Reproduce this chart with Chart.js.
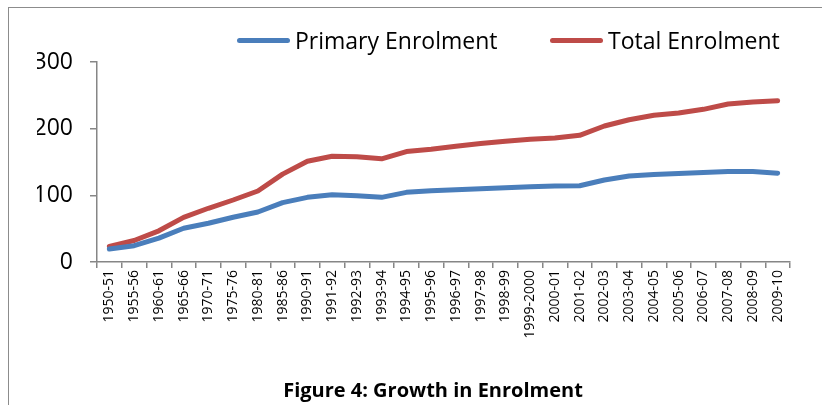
<!DOCTYPE html>
<html>
<head>
<meta charset="utf-8">
<script src="https://cdn.jsdelivr.net/npm/chart.js@4/dist/chart.umd.min.js"></script>
<style>
  html, body { margin: 0; padding: 0; background: #fff; }
  body { width: 822px; height: 405px; position: relative; overflow: hidden; font-family: "Open Sans", Lato, sans-serif; }
  #frame { position: absolute; left: 8px; top: 7px; width: 900px; height: 500px; border-left: 1px solid #8c8c8c; border-top: 1px solid #8c8c8c; }
  #chartBox { position: absolute; left: 0; top: 0; width: 822px; height: 405px; }
  .legend-item { position: absolute; top: 24px; height: 32px; display: flex; align-items: center; font-size: 23px; color: #000; white-space: nowrap; }
  .legend-item .swatch { width: 53px; height: 5px; border-radius: 3px; margin-right: 5px; }
  #title { position: absolute; left: 0; width: 866px; top: 376px; text-align: center; font-weight: bold; font-size: 20px; color: #000; }
</style>
</head>
<body>
<div id="frame"></div>
<div id="chartBox"><canvas id="enrolChart" width="822" height="405"></canvas></div>
<div class="legend-item" style="left:237px"><span class="swatch" style="background:#4a7ebb"></span>Primary Enrolment</div>
<div class="legend-item" style="left:550px"><span class="swatch" style="background:#be4b48"></span>Total Enrolment</div>
<div id="title">Figure 4: Growth in Enrolment</div>

<script>
// الفئات (السنوات)
const years = ["1950-51", "1955-56", "1960-61", "1965-66", "1970-71", "1975-76", "1980-81",
    "1985-86", "1990-91", "1991-92", "1992-93", "1993-94", "1994-95", "1995-96", "1996-97",
    "1997-98", "1998-99", "1999-2000", "2000-01", "2001-02", "2002-03", "2003-04", "2004-05",
    "2005-06", "2006-07", "2007-08", "2008-09", "2009-10"];

// القيم المقروءة من الصورة
const primaryEnrolment = [19.4, 24.4, 35.8, 50.7, 58.2, 67.2, 75, 89, 97, 101, 99.5, 97, 104.5,
    107, 108.5, 110, 111.4, 113, 114, 114.4, 123, 129, 131.3, 132.8, 134.3, 135.8, 135.8, 133.3];
const totalEnrolment = [23.4, 32.3, 46.8, 67, 80.6, 93, 106.5, 131.8, 151.2, 158.7, 157.7, 154.7, 165.7,
    169, 173.6, 177.6, 181, 184, 186, 190, 204, 213.4, 220, 223.4, 229, 237, 240, 242];

const yTicks = [0, 100, 200, 300];

const axisColor = "#868686";

const ctx = document.getElementById("enrolChart").getContext("2d");

new Chart(ctx, {
    type: "line",
    data: {
        labels: years,
        datasets: [
            {
                label: "Primary Enrolment",
                data: primaryEnrolment,
                borderColor: "#4a7ebb",
                borderWidth: 5,
                pointRadius: 0,
                tension: 0,
                borderCapStyle: "round",
                borderJoinStyle: "round"
            },
            {
                label: "Total Enrolment",
                data: totalEnrolment,
                borderColor: "#be4b48",
                borderWidth: 5,
                pointRadius: 0,
                tension: 0,
                borderCapStyle: "round",
                borderJoinStyle: "round"
            }
        ]
    },
    options: {
        responsive: false,
        animation: false,
        layout: {
            padding: { left: 37, right: 32, top: 62, bottom: 53 }
        },
        plugins: {
            legend: { display: false },
            title: { display: false },
            tooltip: { enabled: false }
        },
        scales: {
            x: {
                offset: true,
                grid: {
                    offset: true,
                    drawOnChartArea: false,
                    drawTicks: true,
                    tickLength: 6,
                    color: axisColor,
                    lineWidth: 1.5
                },
                border: { color: axisColor, width: 1.5 },
                ticks: {
                    autoSkip: false,
                    minRotation: 90,
                    maxRotation: 90,
                    padding: 2,
                    color: "#000",
                    font: { family: "Open Sans", size: 14 }
                },
                afterFit(scale) { scale.height = 90; }
            },
            y: {
                min: 0,
                max: 300,
                afterBuildTicks(scale) {
                    scale.ticks = yTicks.map(v => ({ value: v }));
                },
                grid: {
                    drawOnChartArea: false,
                    drawTicks: true,
                    tickLength: 7,
                    color: axisColor,
                    lineWidth: 1.5
                },
                border: { color: axisColor, width: 1.5 },
                ticks: {
                    padding: 17,
                    color: "#000",
                    font: { family: "Open Sans", size: 23 }
                },
                afterFit(scale) { scale.width = 60; }
            }
        }
    }
});
</script>
</body>
</html>
